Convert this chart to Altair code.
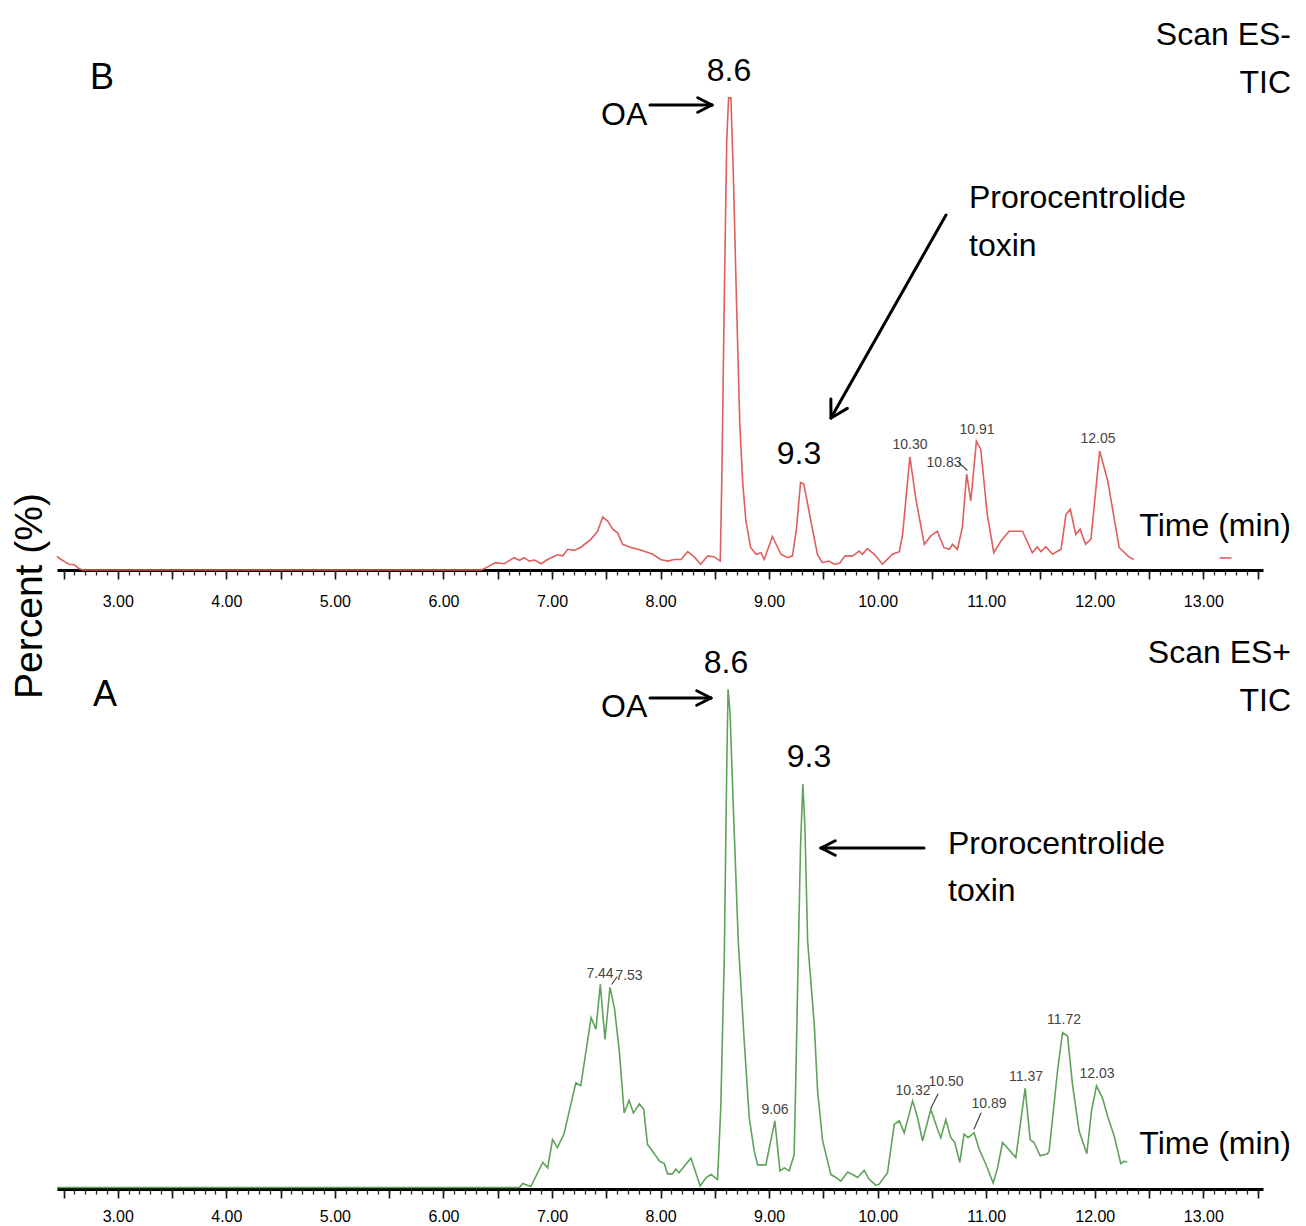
import math
import altair as alt
import pandas as pd

FONT = "Liberation Sans, Arial, sans-serif"

# ---------------- data ----------------
# Panel B : Scan ES- TIC (red)
top_time = [2.44, 2.47, 2.51, 2.55, 2.60, 2.64, 2.68, 6.35, 6.39, 6.48, 6.56, 6.65, 6.70, 6.745,
            6.79, 6.84, 6.90, 6.96, 7.05, 7.10, 7.145, 7.205, 7.27, 7.36, 7.42, 7.467, 7.513,
            7.56, 7.605, 7.65, 7.73, 7.79, 7.85, 7.93, 8.00, 8.065, 8.125, 8.19, 8.25, 8.31,
            8.37, 8.435, 8.495, 8.55, 8.565, 8.59, 8.61, 8.627, 8.648, 8.67, 8.70, 8.73, 8.756,
            8.786, 8.83, 8.88, 8.925, 8.955, 9.03, 9.11, 9.17, 9.215, 9.25, 9.29, 9.32, 9.385,
            9.445, 9.49, 9.55, 9.60, 9.65, 9.70, 9.77, 9.83, 9.86, 9.905, 9.97, 10.045, 10.135,
            10.20, 10.23, 10.297, 10.355, 10.43, 10.49, 10.55, 10.61, 10.66, 10.69, 10.735,
            10.78, 10.82, 10.858, 10.91, 10.95, 11.01, 11.07, 11.135, 11.21, 11.335, 11.425,
            11.47, 11.505, 11.55, 11.61, 11.69, 11.735, 11.775, 11.825, 11.865, 11.915, 11.965,
            12.045, 12.12, 12.225, 12.315, 12.36]
top_pct = [6.6, 6.1, 5.6, 5.1, 5.0, 4.3, 4.0, 4.0, 4.4, 5.4, 5.2, 6.35, 5.85, 6.35,
           5.7, 5.9, 5.2, 6.0, 6.9, 6.7, 7.95, 7.75, 8.4, 9.9, 11.4, 14.1, 13.35,
           11.8, 11.1, 8.9, 8.3, 7.95, 7.6, 7.0, 6.0, 5.7, 6.0, 6.0, 7.5, 6.5,
           5.1, 6.7, 6.5, 5.7, 22.0, 60.0, 86.0, 94.1, 94.1, 80.0, 55.0, 32.0, 21.0,
           13.4, 8.3, 7.0, 7.3, 6.0, 10.4, 7.0, 6.35, 6.7, 11.5, 20.7, 20.4, 13.35,
           7.0, 5.4, 5.7, 5.1, 5.3, 6.7, 6.7, 7.6, 7.0, 8.1, 7.0, 5.1, 7.0,
           7.5, 10.8, 25.6, 17.2, 8.9, 10.5, 11.4, 8.3, 7.95, 8.9, 7.95,
           12.1, 22.3, 17.2, 28.6, 27.0, 14.6, 7.3, 9.5, 11.4, 11.4, 7.3,
           8.4, 7.5, 8.45, 7.0, 7.95, 14.6, 15.6, 10.8, 11.8, 8.9, 9.9,
           26.7, 21.0, 8.3, 6.5, 6.0]
top_tail_time = [13.15, 13.26]
top_tail_pct = [6.3, 6.3]

# Panel A : Scan ES+ TIC (green)
bot_time = [2.44, 6.70, 6.73, 6.805, 6.915, 6.96, 7.005, 7.05, 7.11, 7.22, 7.265, 7.36, 7.405,
            7.445, 7.488, 7.534, 7.575, 7.62, 7.665, 7.71, 7.75, 7.805, 7.845, 7.88, 7.925,
            7.99, 8.035, 8.065, 8.11, 8.14, 8.17, 8.22, 8.28, 8.325, 8.365, 8.42, 8.465, 8.525,
            8.555, 8.587, 8.61, 8.622, 8.64, 8.675, 8.716, 8.771, 8.817, 8.863, 8.894, 8.97,
            9.053, 9.10, 9.14, 9.185, 9.231, 9.247, 9.271, 9.29, 9.311, 9.33, 9.355, 9.416,
            9.447, 9.493, 9.569, 9.615, 9.661, 9.723, 9.769, 9.815, 9.876, 9.922, 9.984,
            10.014, 10.091, 10.153, 10.199, 10.245, 10.322, 10.368, 10.414, 10.49, 10.552,
            10.582, 10.628, 10.674, 10.711, 10.757, 10.796, 10.833, 10.889, 10.935, 10.997,
            11.064, 11.105, 11.15, 11.196, 11.273, 11.359, 11.405, 11.441, 11.497, 11.565,
            11.58, 11.657, 11.703, 11.749, 11.795, 11.856, 11.927, 11.97, 12.016, 12.071,
            12.118, 12.179, 12.24, 12.27, 12.30]
bot_pct = [15.25, 15.25, 15.9, 15.4, 19.4, 18.5, 23.2, 21.85, 24.1, 32.6, 32.1, 43.4, 41.5,
           48.9, 39.8, 48.4, 45.0, 37.9, 27.6, 29.7, 27.6, 29.1, 28.2, 22.4, 21.3,
           19.6, 19.2, 17.5, 17.5, 18.3, 17.7, 18.8, 20.1, 17.7, 15.5, 16.9, 17.4, 16.6,
           28.5, 53.3, 85.0, 97.8, 94.0, 76.0, 56.1, 39.5, 26.8, 21.3, 19.0, 19.0,
           26.3, 18.0, 18.5, 18.0, 20.7, 34.0, 56.0, 72.0, 82.1, 75.0, 56.1, 42.3,
           31.2, 23.0, 17.4, 16.9, 16.3, 17.8, 17.4, 16.9, 18.1, 16.6, 15.6,
           15.8, 17.7, 25.7, 26.3, 24.3, 29.6, 26.8, 22.95, 28.2, 24.9,
           23.5, 26.5, 23.5, 22.7, 19.4, 24.1, 23.5, 24.3, 21.6, 19.1,
           16.0, 18.5, 22.7, 21.8, 20.2, 31.7, 23.2, 22.7, 20.5, 20.85,
           21.3, 34.55, 40.9, 40.35, 32.35, 24.6, 20.85, 27.9, 32.1, 30.1,
           27.1, 23.8, 19.2, 19.6, 19.5]

x_major = [round(2.5 + 0.5 * i, 1) for i in range(23)]
x_minor = [round(2.5 + 0.1 * i, 1) for i in range(111)]
top_yticks = [4] + [10 * i for i in range(1, 11)]
bot_yticks = [15] + [10 * i for i in range(2, 11)]

top_df = pd.DataFrame({
    "t": top_time + top_tail_time,
    "v": top_pct + top_tail_pct,
    "seg": ["main"] * len(top_time) + ["tail"] * len(top_tail_time),
})
bot_df = pd.DataFrame({"t": bot_time, "v": bot_pct, "seg": ["main"] * len(bot_time)})

ONE = pd.DataFrame({"k": [0]})
XDOM = [2.44, 13.55]
W = 1206
BIG = 32
DIG = 32
SMALL = 14
GREY = "#444"


def txt(s, x, y, size=BIG, align="left", color="black", angle=None):
    mk = dict(align=align, baseline="alphabetic", fontSize=size, font=FONT, color=color)
    if angle is not None:
        mk["angle"] = angle
    return alt.Chart(ONE).mark_text(**mk).encode(
        x=alt.value(x), y=alt.value(y), text=alt.value(s))


def seg(x1, y1, x2, y2, w=3.0, color="black"):
    return alt.Chart(ONE).mark_rule(color=color, strokeWidth=w, strokeCap="round").encode(
        x=alt.value(x1), y=alt.value(y1), x2=alt.value(x2), y2=alt.value(y2))


def arrow(x1, y1, x2, y2, head=16, ang=28, w=3.0):
    dx, dy = x1 - x2, y1 - y2
    L = math.hypot(dx, dy)
    ux, uy = dx / L, dy / L
    parts = [seg(x1, y1, x2, y2, w)]
    for a in (math.radians(ang), -math.radians(ang)):
        bx = ux * math.cos(a) - uy * math.sin(a)
        by = ux * math.sin(a) + uy * math.cos(a)
        parts.append(seg(x2, y2, x2 + head * bx, y2 + head * by, w))
    return parts


def base_layers(df, color, ymin, yticks, ylabcolor, labpad):
    xs = alt.Scale(domain=XDOM, nice=False, zero=False)
    ys = alt.Scale(domain=[ymin, 100], nice=False, zero=False)
    main = alt.Chart(df).mark_line(color=color, strokeWidth=1.6).encode(
        x=alt.X("t:Q", scale=xs, axis=alt.Axis(
            values=x_major, orient="bottom", tickSize=9, tickWidth=1.6, tickColor="#111",
            domainColor="black", domainWidth=3, grid=False, title=None,
            labelExpr="datum.value % 1 === 0 ? format(datum.value, '.2f') : ''",
            labelFont=FONT, labelFontSize=16, labelColor="black",
            labelPadding=labpad, labelFlush=False, labelOverlap=False)),
        y=alt.Y("v:Q", scale=ys, axis=alt.Axis(
            values=yticks, orient="left", tickSize=4, tickWidth=2, tickColor="#333",
            domainColor="#333", domainWidth=2, grid=False, title=None,
            labelExpr=f"datum.value === {ymin} ? '{ymin}' : ''",
            labelFont=FONT, labelFontSize=15, labelColor=ylabcolor, labelPadding=2,
            labelOverlap=False)),
        detail="seg:N",
    )
    minor = alt.Chart(df).mark_line(opacity=0).encode(
        x=alt.X("t:Q", axis=alt.Axis(
            values=x_minor, orient="bottom", tickSize=5, tickWidth=1.3, tickColor="#222",
            labels=False, domain=False, grid=False, title=None)),
        y=alt.Y("v:Q", axis=None),
        detail="seg:N",
    )
    return [main, minor]


# ---------------- panel B (top) ----------------
top_layers = base_layers(top_df, "#e05e5e", 4, top_yticks, "black", 14)
top_layers += [
    seg(-47.5, -57.5, -46.5, -57.5, w=1, color="white"),
    txt("Percent (%)", -15, 529, size=39, align="center", angle=270),
    txt("B", 33, 22, size=36),
    txt("8.6", 672, 14, size=DIG, align="center"),
    txt("OA", 544, 58),
    txt("9.3", 742, 397, size=DIG, align="center"),
    txt("Prorocentrolide", 912, 141),
    txt("toxin", 912, 189),
    txt("Time (min)", 1234, 469, align="right"),
    txt("Scan ES-", 1234, -22, align="right"),
    txt("TIC", 1234, 26, align="right"),
    txt("10.30", 853, 382, size=SMALL, align="center", color=GREY),
    txt("10.83", 887, 400, size=SMALL, align="center", color=GREY),
    txt("10.91", 920, 367, size=SMALL, align="center", color=GREY),
    txt("12.05", 1041, 376, size=SMALL, align="center", color=GREY),
    seg(902, 396, 910, 403, w=1.2, color=GREY),
]
top_layers += arrow(593, 38, 655, 38, head=16, ang=27)
top_layers += arrow(889, 148, 774, 351, head=19, ang=30)

top = alt.layer(*top_layers).properties(width=W, height=503).resolve_axis(x="independent")

# ---------------- panel A (bottom) ----------------
bot_layers = base_layers(bot_df, "#5fa35a", 15, bot_yticks, "#555", 10)
bot_layers += [
    txt("A", 36, 30, size=36),
    txt("8.6", 669, -3, size=DIG, align="center"),
    txt("OA", 544, 41),
    txt("9.3", 752, 91, size=DIG, align="center"),
    txt("Prorocentrolide", 891, 178),
    txt("toxin", 891, 225),
    txt("Time (min)", 1234, 478, align="right"),
    txt("Scan ES+", 1234, -13, align="right"),
    txt("TIC", 1234, 35, align="right"),
    txt("7.44", 543, 302, size=SMALL, align="center", color=GREY),
    txt("7.53", 572, 304, size=SMALL, align="center", color=GREY),
    seg(555, 308, 560, 301, w=1.2, color=GREY),
    txt("9.06", 718, 438, size=SMALL, align="center", color=GREY),
    txt("10.32", 856, 419, size=SMALL, align="center", color=GREY),
    txt("10.50", 889, 410, size=SMALL, align="center", color=GREY),
    seg(881, 418, 874, 432, w=1.2, color=GREY),
    txt("10.89", 932, 432, size=SMALL, align="center", color=GREY),
    seg(924, 437, 917, 453, w=1.2, color=GREY),
    txt("11.37", 969, 405, size=SMALL, align="center", color=GREY),
    txt("11.72", 1007, 348, size=SMALL, align="center", color=GREY),
    txt("12.03", 1040, 402, size=SMALL, align="center", color=GREY),
]
bot_layers += arrow(593, 22, 654, 22, head=16, ang=27)
bot_layers += arrow(867, 172, 764, 172, head=16, ang=27)

bottom = alt.layer(*bot_layers).properties(width=W, height=513).resolve_axis(x="independent")

chart = alt.vconcat(top, bottom, spacing=106, bounds="flush").properties(
    padding={"left": 0, "top": 0, "right": 4, "bottom": 4}
).configure_view(stroke="transparent")

chart.save("out.html", embed_options={"renderer": "svg", "actions": False})
